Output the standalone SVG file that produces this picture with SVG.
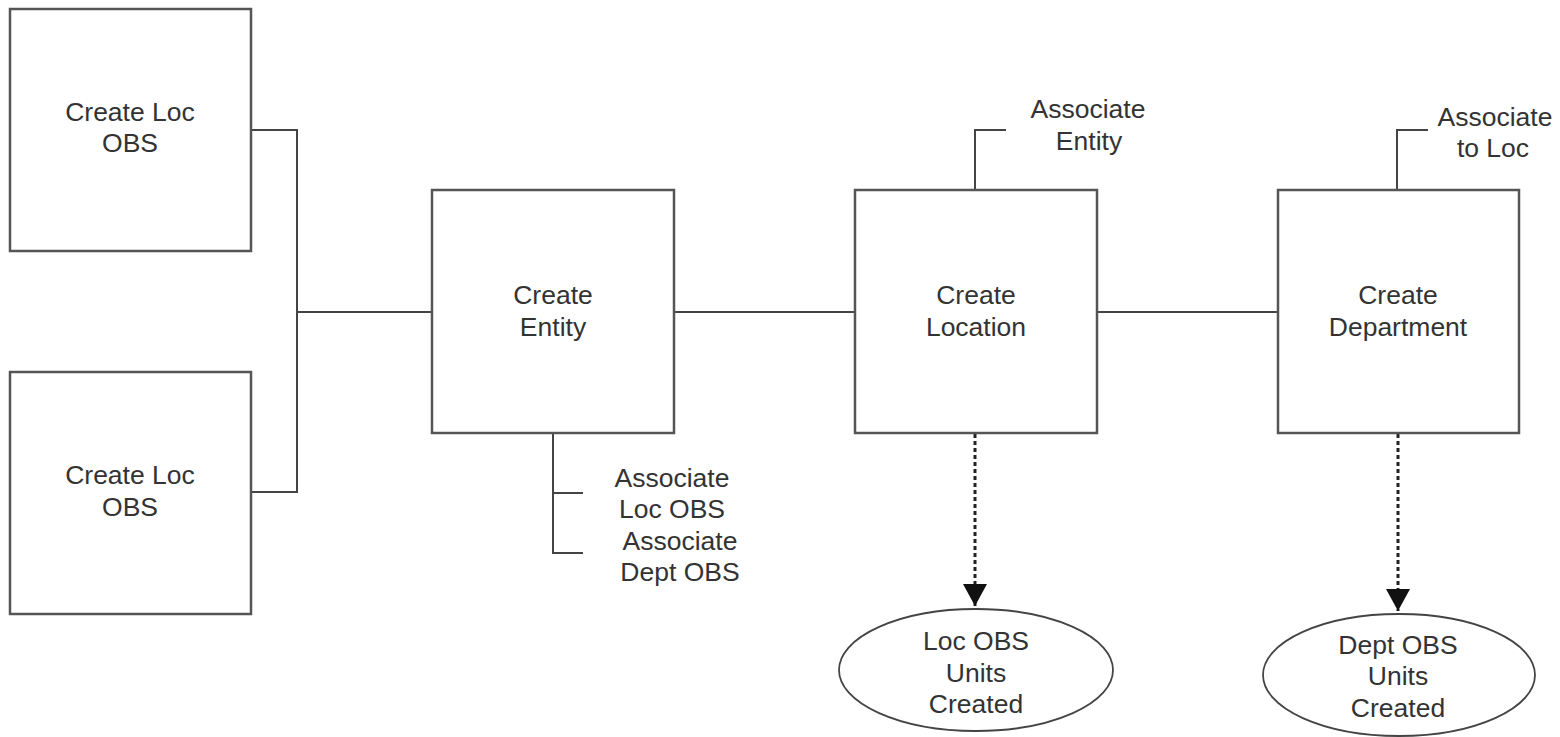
<svg xmlns="http://www.w3.org/2000/svg" width="1560" height="737" viewBox="0 0 1560 737">
<defs>
<style>
.box{fill:#fff;stroke:#555;stroke-width:2.5}
.ln{fill:none;stroke:#444;stroke-width:2}
.dash{fill:none;stroke:#222;stroke-width:3;stroke-dasharray:4 3}
.t{font-family:"Liberation Sans",Arial,sans-serif;font-size:26.5px;fill:#333;text-anchor:middle}
.ell{fill:#fff;stroke:#444;stroke-width:1.8}
</style>
<marker id="arr2" markerWidth="25" markerHeight="24" refX="22" refY="12" orient="auto" markerUnits="userSpaceOnUse" viewBox="0 0 24 24">
<path d="M0,0 L22,12 L0,24 Z" fill="#111"/>
</marker>
</defs>
<rect width="1560" height="737" fill="#fff"/>
<g id="connectors">
<polyline class="ln" points="251,130 297,130 297,492 251,492"/>
<line class="ln" x1="297" y1="312" x2="432" y2="312"/>
<line class="ln" x1="674" y1="312" x2="855" y2="312"/>
<line class="ln" x1="1097" y1="312" x2="1278" y2="312"/>
<polyline class="ln" points="553,433 553,553 583,553"/>
<line class="ln" x1="553" y1="493" x2="583" y2="493"/>
<polyline class="ln" points="975,190 975,130 1006,130"/>
<polyline class="ln" points="1397,190 1397,130 1428,130"/>
<line class="dash" x1="975" y1="434" x2="975" y2="606" marker-end="url(#arr2)"/>
<line class="dash" x1="1398" y1="434" x2="1398" y2="611" marker-end="url(#arr2)"/>
</g>
<g id="loc-obs-1">
<rect class="box" x="10" y="9" width="241" height="242"/>
<text class="t" x="130" y="121">Create Loc</text>
<text class="t" x="130" y="152">OBS</text>
</g>
<g id="loc-obs-2">
<rect class="box" x="10" y="372" width="241" height="242"/>
<text class="t" x="130" y="484">Create Loc</text>
<text class="t" x="130" y="516">OBS</text>
</g>
<g id="create-entity">
<rect class="box" x="432" y="190" width="242" height="243"/>
<text class="t" x="553" y="304">Create</text>
<text class="t" x="553" y="336">Entity</text>
</g>
<g id="create-location">
<rect class="box" x="855" y="190" width="242" height="243"/>
<text class="t" x="976" y="304">Create</text>
<text class="t" x="976" y="336">Location</text>
</g>
<g id="create-department">
<rect class="box" x="1278" y="190" width="241" height="243"/>
<text class="t" x="1398" y="304">Create</text>
<text class="t" x="1398" y="336">Department</text>
</g>
<g id="label-assoc-loc-obs">
<text class="t" x="672" y="487">Associate</text>
<text class="t" x="672" y="518">Loc OBS</text>
</g>
<g id="label-assoc-dept-obs">
<text class="t" x="680" y="550">Associate</text>
<text class="t" x="680" y="581">Dept OBS</text>
</g>
<g id="label-assoc-entity">
<text class="t" x="1088" y="118">Associate</text>
<text class="t" x="1089" y="150">Entity</text>
</g>
<g id="label-assoc-loc">
<text class="t" x="1495" y="126">Associate</text>
<text class="t" x="1493" y="157">to Loc</text>
</g>
<g id="loc-obs-units">
<ellipse class="ell" cx="976" cy="670" rx="137" ry="61"/>
<text class="t" x="976" y="650">Loc OBS</text>
<text class="t" x="976" y="682">Units</text>
<text class="t" x="976" y="713">Created</text>
</g>
<g id="dept-obs-units">
<ellipse class="ell" cx="1399" cy="675" rx="136" ry="61"/>
<text class="t" x="1398" y="654">Dept OBS</text>
<text class="t" x="1398" y="685">Units</text>
<text class="t" x="1398" y="717">Created</text>
</g>
</svg>
